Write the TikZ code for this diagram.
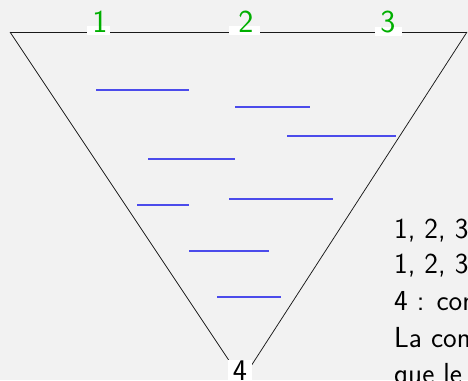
\documentclass[tikz,border=0pt]{standalone}
\usepackage{fontspec}
\usetikzlibrary{positioning}
\definecolor{pagegray}{RGB}{242,242,242}
\definecolor{numgreen}{RGB}{0,175,0}
\definecolor{segblue}{RGB}{75,75,235}

\begin{document}
\begin{tikzpicture}[x=1pt, y=-1pt,
  font=\sffamily,
  edge/.style={draw=black!90, line width=0.75pt},
  seg/.style={draw=segblue, line width=1.1pt},
  cut/.style={fill=white, inner sep=0pt, minimum height=9pt},
  num/.style={text=numgreen, inner sep=0pt, anchor=base, font=\sffamily\fontsize{32}{36}\selectfont},
  apex/.style={fill=white, inner xsep=5pt, inner ysep=1pt, font=\sffamily\fontsize{30}{36}\selectfont},
  txt/.style={inner sep=0pt, anchor=base west, font=\sffamily\fontsize{29}{36}\selectfont}
]
\clip (0,0) rectangle (468,380);
\fill[pagegray] (0,0) rectangle (468,380);

% triangle
\coordinate (tl) at (10,32);
\coordinate (tr) at (467,32);
\coordinate (bot) at (242,380);
\draw[edge] (tl) -- (tr);
\draw[edge] (tl) -- (bot);
\draw[edge] (tr) -- (bot);

% blue strokes
\foreach \xa/\xb/\y in {96/189/90, 235/310/107, 287/396/136, 148/235/159,
                        137/189/205, 229/333/199, 189/269/251, 217/281/297}
  \draw[seg] (\xa,\y) -- (\xb,\y);

% top labels
\node[cut, minimum width=23pt] (c1) at (98.5,30.5) {};
\node[cut, minimum width=31pt] (c2) at (244.5,30.5) {};
\node[cut, minimum width=27pt] (c3) at (388.5,31) {};
\node[num] (n1) at (100,32.5) {1};
\node[num] (n2) at (246,32.5) {2};
\node[num] (n3) at (388,32.5) {3};

% bottom label
\node[apex] (n4) at (240,371) {4};

% text on the right
\node[txt] (l1) at (394,238) {1, 2, 3};
\node[txt] (l2) at (394,273) {1, 2, 3};
\node[txt] (l3) at (394,310) {4 : con};
\node[txt] (l4) at (394,347) {La con};
\node[txt] (l5) at (394,383) {que le};
\end{tikzpicture}
\end{document}
